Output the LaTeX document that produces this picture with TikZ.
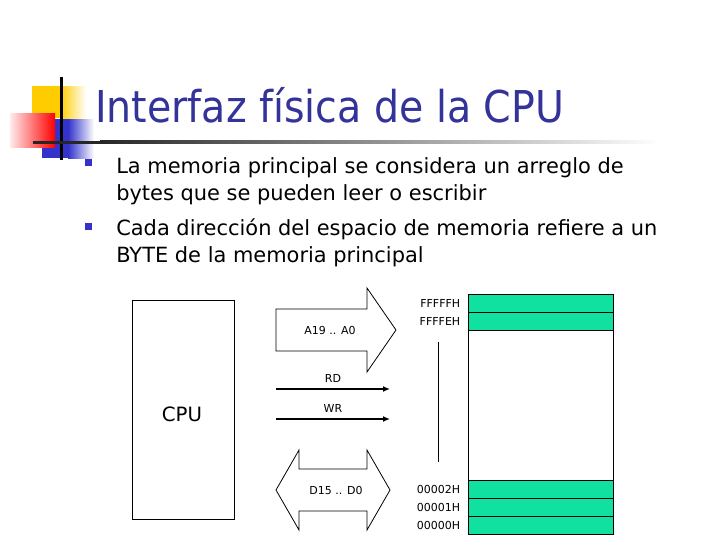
\documentclass[tikz,border=0pt]{standalone}
\usepackage{fontspec}
\setmainfont{DejaVu Sans}
\newfontfamily\titlefont{DejaVu Sans}[FakeStretch=0.9]
\usepackage{tikz}
\usetikzlibrary{arrows.meta,positioning}
\usepackage{xcolor}
\definecolor{navy}{HTML}{333399}
\definecolor{bulletblue}{HTML}{3333CC}
\definecolor{gold}{HTML}{FFCC00}
\definecolor{cellfill}{HTML}{10E0A0}
\tikzset{
  slidetitle/.style={anchor=base west,inner sep=0pt,text=navy,
    font=\titlefont\fontsize{32.9}{40}\selectfont},
  bodytext/.style={anchor=base west,inner sep=0pt,align=left,
    font=\fontsize{15.7}{20.25}\selectfont},
  bulletmark/.style={fill=bulletblue,minimum size=5.25pt,inner sep=0pt},
  cpubox/.style={draw,line width=0.75pt,minimum width=76.5pt,minimum height=164.25pt},
  membox/.style={draw,line width=0.75pt,minimum width=108.75pt,minimum height=180pt},
  memcell/.style={draw,fill=cellfill,line width=0.75pt,minimum width=108.75pt,
    minimum height=13.5pt,inner sep=0pt},
  bus/.style={draw,line width=0.6pt,line join=miter},
  ctrl/.style={-{Latex[length=5.25pt,width=4.5pt]},line width=1.5pt},
  sig/.style={font=\fontsize{8.25}{10}\selectfont,inner sep=0pt},
  addr/.style={font=\fontsize{8.25}{10}\selectfont,inner sep=0pt}
}
\begin{document}
\begin{tikzpicture}[x=0.75pt,y=-0.75pt]
  \useasboundingbox (0,0) rectangle (720,540);
  % logo
  \fill[gold] (32,86) rectangle (60,118);
  \shade[left color=gold,right color=white] (60,86) rectangle (86,118);
  \fill[bulletblue] (42,119) rectangle (68,158);
  \shade[left color=bulletblue,right color=white] (68,119) rectangle (94,158);
  \shade[left color=red!8,right color=red] (10,113) rectangle (55,147);
  \draw[line width=2.25pt] (61,77) -- (61,160);
  \fill[black!85] (33,140.5) rectangle (100,143.5);
  \shade[left color=black!85,right color=white] (100,140.5) rectangle (660,143.5);
  % title and bullets
  \node[slidetitle] (ttl) at (95,122) {Interfaz física de la CPU};
  \node[bulletmark] (n1) at (88.5,162) {};
  \node[bulletmark] (n2) at (88.5,226) {};
  \node[bodytext] (t1) at (116,200) {La memoria principal se considera un arreglo de\\bytes que se pueden leer o escribir};
  \node[bodytext] (t2) at (116,262) {Cada dirección del espacio de memoria refiere a un\\BYTE de la memoria principal};
  % cpu
  \node[cpubox] (cpu) at (183,409.5) {};
  \node[font=\fontsize{14.8}{18}\selectfont,inner sep=0pt] (cpulbl) at (182,414) {CPU};
  % address bus
  \draw[bus] (276,309) -- (367,309) -- (367,288) -- (396,330) -- (367,372)
    -- (367,351) -- (276,351) -- cycle;
  \node[sig] (abus) at (330,330) {A19 .. A0};
  % control lines
  \coordinate (rd0) at (276,389);
  \coordinate (rd1) at (390,389);
  \coordinate (wr0) at (276,419);
  \coordinate (wr1) at (390,419);
  \draw[ctrl] (rd0) -- node[sig,above=4.5pt] (rdl) {RD} (rd1);
  \draw[ctrl] (wr0) -- node[sig,above=4.5pt] (wrl) {WR} (wr1);
  % data bus
  \draw[bus] (276,490) -- (299,450) -- (299,469) -- (367,469) -- (367,450)
    -- (390,490) -- (367,530) -- (367,511) -- (299,511) -- (299,530) -- cycle;
  \node[sig] (dbus) at (336,490) {D15 .. D0};
  % memory
  \node[membox] (mem) at (540.5,414) {};
  \foreach \y/\lbl [count=\i] in {303/FFFFFH,321/FFFFEH,489/00002H,507/00001H,525/00000H}{
    \node[memcell] (m\i) at (540.5,\y) {};
    \node[addr,left=5.25pt of m\i] (a\i) {\lbl};
  }
  \draw[line width=0.75pt] (438,342) -- (438,462);
\end{tikzpicture}
\end{document}
